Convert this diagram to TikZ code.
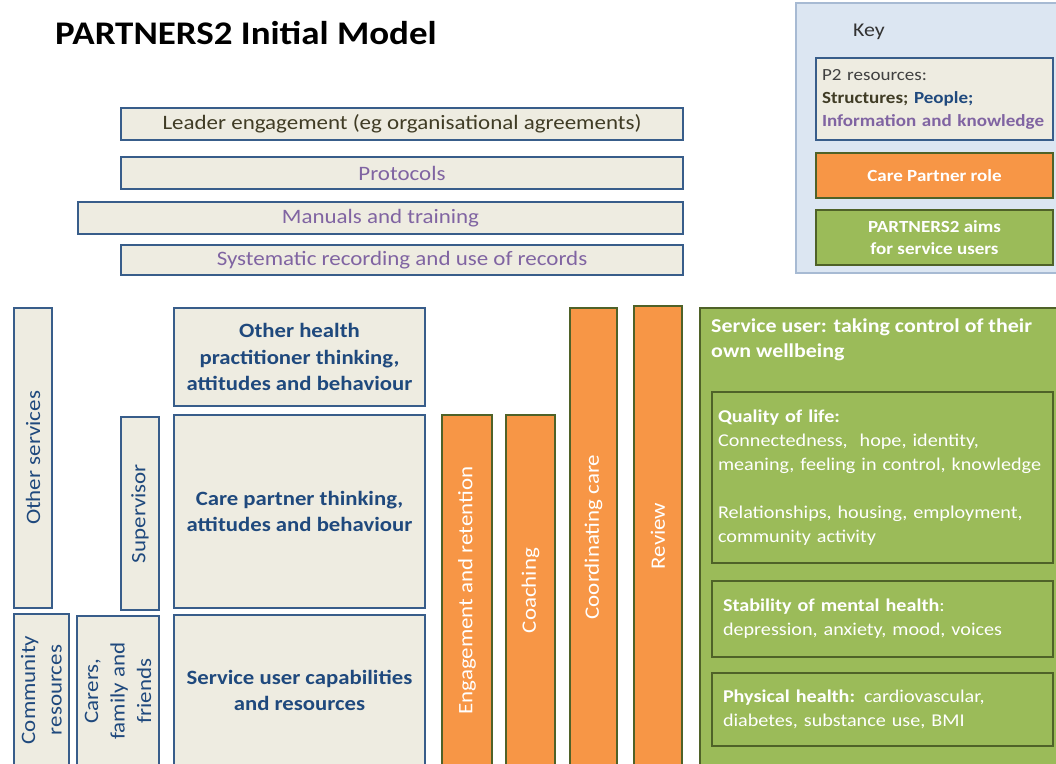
\documentclass[tikz,border=0pt]{standalone}
\usepackage{fontspec}
\setmainfont[FakeStretch=1.12]{Carlito}
\definecolor{resfill}{HTML}{EEECE1}
\definecolor{resline}{HTML}{385D8A}
\definecolor{restext}{HTML}{1F497D}
\definecolor{purp}{HTML}{8064A2}
\definecolor{olivetext}{HTML}{403C25}
\definecolor{orng}{HTML}{F79646}
\definecolor{grn}{HTML}{9BBB59}
\definecolor{dgrn}{HTML}{4F6228}
\definecolor{keyfill}{HTML}{DCE6F2}
\definecolor{keyline}{HTML}{A7BAD3}
\begin{document}
\begin{tikzpicture}[x=1pt,y=-1pt,
  box/.style={rectangle, inner sep=0pt, align=center},
  resbox/.style={box, draw=resline, line width=2.6pt, fill=resfill, text=restext},
  orbox/.style={box, draw=dgrn, line width=2.6pt, fill=orng, text=white},
  grbox/.style={box, draw=dgrn, line width=2.6pt, fill=grn, text=white},
  subbox/.style={grbox, line width=2.2pt, align=left, inner ysep=0pt},
  bartext/.style={font=\fontsize{20.5}{23}\selectfont},
  bigtext/.style={font=\bfseries\fontsize{20.3}{26.5}\selectfont},
  rottext/.style={rotate=90, font=\fontsize{20.5}{26.5}\selectfont},
  greentext/.style={font=\fontsize{18}{24}\selectfont},
  keytext/.style={font=\fontsize{17}{23}\selectfont},
]
\useasboundingbox (0,0) rectangle (1056,763);

% title
\node[anchor=base west, inner sep=0pt, font=\bfseries\fontsize{33}{38}\selectfont] (title) at (55,44) {PARTNERS2 Initial Model};

% key
\node[box, draw=keyline, line width=1.6pt, fill=keyfill, minimum width=264, minimum height=270] (key) at (928,138) {};
\node[text=black!80, font=\fontsize{19.5}{23}\selectfont] (keylabel) at (869,32) {Key};
\node[resbox, keytext, align=left, text width=225, inner xsep=6pt, minimum height=82, text=black!75] (kres) at (934.5,99)
  {P2 resources:\\\textbf{\textcolor{olivetext}{Structures;} \textcolor{restext}{People;}}\\\textbf{\textcolor{purp}{Information and knowledge}}};
\node[orbox, font=\bfseries\fontsize{17}{23}\selectfont, minimum width=237, minimum height=45] (krole) at (934.5,175.5) {Care Partner role};
\node[grbox, font=\bfseries\fontsize{17}{22}\selectfont, minimum width=237, minimum height=55] (kaims) at (934.5,237.5) {PARTNERS2 aims\\for service users};

% top bars
\node[resbox, bartext, text=olivetext, minimum width=562, minimum height=32] (leader) at (402,124) {Leader engagement (eg organisational agreements)};
\node[resbox, bartext, text=purp, minimum width=562, minimum height=32] (protocols) at (402,173) {Protocols};
\node[resbox, bartext, text=purp, minimum width=605, minimum height=32] (manuals) at (380.5,218) {Manuals and training};
\node[resbox, bartext, text=purp, minimum width=562, minimum height=30] (records) at (402,260) {Systematic recording and use of records};

% left column
\node[resbox, rottext, minimum width=300, minimum height=38] (othersvc) at (33,458) {Other services};
\node[resbox, rottext, minimum width=152, minimum height=55] (community) at (41.5,690) {Community\\resources};
\node[resbox, rottext, minimum width=150, minimum height=82] (carers) at (118,691) {Carers,\\family and\\friends};
\node[resbox, rottext, minimum width=193, minimum height=38] (supervisor) at (140,513.5) {Supervisor};
\node[resbox, bigtext, minimum width=251, minimum height=98] (otherhp) at (299.5,357) {Other health\\practitioner thinking,\\attitudes and behaviour};
\node[resbox, bigtext, minimum width=251, minimum height=193] (carepartner) at (299.5,511.5) {Care partner thinking,\\attitudes and behaviour};
\node[resbox, bigtext, minimum width=251, minimum height=151] (sucap) at (299.5,690.5) {Service user capabilities\\and resources};

% care partner role
\node[orbox, rottext, minimum width=351, minimum height=50] (engage) at (467,590.5) {Engagement and retention};
\node[orbox, rottext, minimum width=351, minimum height=49] (coaching) at (530.5,590.5) {Coaching};
\node[orbox, rottext, minimum width=458, minimum height=47] (coord) at (593.5,537) {Coordinating care};
\node[orbox, rottext, minimum width=460, minimum height=48] (review) at (658,536) {Review};

% aims
\node[grbox, minimum width=358, minimum height=458] (aims) at (879,537) {};
\node[anchor=north west, inner sep=0pt, align=left, text=white, font=\bfseries\fontsize{19.6}{25}\selectfont] (aimstitle) at (711,319)
  {Service user: taking control of their\\own wellbeing};
\node[subbox, greentext, text width=329, inner xsep=6pt, minimum height=171] (qol) at (882.5,477.5)
  {\textbf{Quality of life:}\\Connectedness,\ \ hope, identity,\\meaning, feeling in control, knowledge\\[24pt]Relationships, housing, employment,\\community activity};
\node[subbox, greentext, text width=319, inner xsep=11pt, minimum height=76] (stab) at (882.5,619)
  {\textbf{Stability of mental health}:\\depression, anxiety, mood, voices};
\node[subbox, greentext, text width=319, inner xsep=11pt, minimum height=73] (phys) at (882.5,709.5)
  {\textbf{Physical health:} cardiovascular,\\diabetes, substance use, BMI};
\end{tikzpicture}
\end{document}
